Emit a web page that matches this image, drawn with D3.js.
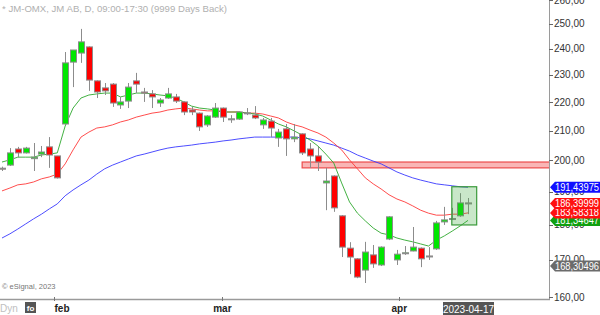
<!DOCTYPE html>
<html>
<head>
<meta charset="utf-8">
<script src="https://cdn.jsdelivr.net/npm/d3@7"></script>
<style>
  body { margin: 0; background: #fff; }
  svg { display: block; font-family: "Liberation Sans", Arial, sans-serif; }
</style>
</head>
<body>
<div id="chart"></div>
<script>
// daily candles, JM AB, 2023-01-20 .. 2023-04-17
const opens  = [197.5,198.5,203.8,202.5,200.6,202.1,204.5,201.5,212.3,234.9,238.4,240.8,227.8,225.2,226.6,219.0,220.4,227.8,223.7,223.0,
                219.7,221.5,221.9,220.1,217.2,216.1,212.0,214.7,217.9,214.0,214.0,216.1,215.4,212.0,213.3,207.5,210.6,207.2,208.9,203.8,
                201.5,192.8,195.0,182.7,173.3,170.3,167.2,171.4,168.6,175.9,170.0,171.9,172.5,173.3,171.1,173.1,180.9,181.8,182.7,186.6];
const highs  = [198.0,204.1,204.5,204.5,205.8,204.8,207.8,201.5,238.8,239.6,248.0,241.0,228.0,227.0,227.0,221.9,227.0,230.8,225.2,224.4,
                221.5,225.2,223.0,220.3,218.3,216.3,215.4,219.7,218.1,215.4,216.7,217.9,218.6,214.4,214.4,210.6,212.3,212.3,209.1,205.8,
                204.5,197.6,195.2,182.9,175.0,170.5,175.1,174.2,173.8,182.6,172.8,173.9,179.4,173.5,173.6,181.2,185.4,185.1,189.6,188.1];
const lows   = [196.6,198.2,201.1,202.3,196.6,201.1,197.6,194.2,212.0,225.5,234.6,224.1,221.5,222.6,218.3,217.6,217.9,223.3,220.1,217.9,
                218.3,221.2,219.7,215.4,215.4,209.9,211.3,214.4,213.0,212.7,213.7,215.4,214.0,210.6,207.8,204.5,201.5,206.1,201.8,197.6,
                196.6,184.4,183.9,170.8,166.1,165.0,163.7,167.8,168.3,175.6,168.6,171.4,172.4,168.0,170.0,172.8,180.0,181.5,182.4,183.2];
const closes = [197.3,202.5,202.5,204.1,201.1,202.8,201.8,194.4,234.6,239.6,242.8,228.1,223.7,224.1,219.7,220.1,225.5,226.6,223.3,221.9,
                220.8,223.0,220.4,216.5,216.5,211.3,215.1,217.9,214.7,214.1,216.5,216.2,214.4,213.7,210.9,209.5,207.2,207.8,202.5,201.5,
                199.5,193.4,185.1,173.6,170.8,165.3,172.2,168.9,173.6,182.4,171.6,172.0,173.6,170.3,171.0,180.6,181.5,181.9,186.6,186.4];

// moving averages
const maFast = [199.5,200.2,201.1,201.1,201.1,201.8,202.1,202.5,211.6,217.9,221.5,222.6,223.0,223.3,223.3,221.9,222.6,223.3,223.3,223.0,
                222.6,222.3,221.5,220.1,218.6,217.9,217.6,217.2,216.5,216.5,216.5,216.1,215.8,215.1,213.7,212.3,211.3,209.9,208.5,206.8,
                204.8,202.1,199.2,192.8,186.9,183.5,181.2,179.1,177.6,177.1,176.2,175.6,175.1,174.5,173.9,175.6,176.8,178.2,179.7,181.35];
const maMid  = [190.3,191.2,192.2,192.5,193.1,194.1,194.7,195.6,198.9,203.5,207.8,209.5,210.9,211.3,212.0,213.0,213.7,214.7,215.4,216.1,
                216.5,217.2,217.6,217.9,217.6,217.2,216.9,216.9,216.5,216.5,216.5,216.1,216.1,215.8,215.1,214.4,213.0,212.0,211.3,210.2,
                209.2,207.8,205.8,203.5,200.2,197.3,194.4,192.5,190.9,189.1,187.8,186.9,185.7,184.4,183.5,182.9,182.9,183.2,183.2,183.58];
const maSlow = [176.2,177.4,178.8,180.3,181.8,183.2,184.8,186.3,188.8,190.6,192.2,193.7,195.6,197.3,198.5,199.5,200.5,201.5,202.1,202.8,
                203.5,204.1,204.5,204.8,205.1,205.5,205.8,206.1,206.5,206.8,207.2,207.5,207.8,207.8,207.8,207.8,207.8,207.8,207.5,207.2,
                206.5,205.8,205.1,204.1,203.1,201.8,200.8,199.8,198.9,197.6,196.3,195.3,194.4,193.7,193.1,192.5,192.2,191.9,191.6,191.44];

const yTicks = [160, 170, 180, 190, 200, 210, 220, 230, 240, 250, 260];
const monthLabels = ["feb", "mar", "apr"];
const monthTickAt = [6.6, 27.9, 50.3];   // bar index of the month boundary
const monthTextAt = [7.6, 27.9, 50.3];

// resistance zone and last-bars box
const zoneTop = 199.5, zoneBottom = 197.6, zoneStart = 38;
const boxTop = 191.6, boxBottom = 180.0, boxStart = 56.95, boxEnd = 60.1;

const tagValues = [168.30496, 181.34647, 183.58318, 186.39999, 191.43975];
const tagColors = ["#6b6b6b", "#10a010", "#ff1010", "#ff1010", "#1010ff"];

const lastDate = "2023-04-17";

const width = 600, height = 315;
const plotRight = 549, plotBottom = 299;

const svg = d3.select("#chart").append("svg")
    .attr("width", width)
    .attr("height", height);

const x = d3.scaleLinear().domain([0, closes.length - 1]).range([2, 468]);
const y = d3.scaleLog().domain([160, 260]).range([297, 0]);
const comma = (fmt) => (v) => d3.format(fmt)(v).replace(".", ",");

svg.append("defs").append("clipPath").attr("id", "plotClip")
    .append("rect").attr("x", 0).attr("y", 0).attr("width", plotRight).attr("height", plotBottom);

const plot = svg.append("g").attr("clip-path", "url(#plotClip)");

// title
svg.append("text")
    .attr("x", 2).attr("y", 12)
    .style("font-size", "9.6px").style("fill", "#b0b0b0")
    .text("* JM-OMX, JM AB, D, 09:00-17:30 (9999 Days Back)");

// resistance zone
plot.append("rect")
    .attr("x", x(zoneStart)).attr("y", y(zoneTop))
    .attr("width", plotRight - x(zoneStart) + 2).attr("height", y(zoneBottom) - y(zoneTop))
    .attr("fill", "#f9b6b6").attr("stroke", "#ec4b4b").attr("stroke-width", 1.2);

// moving averages
const line = d3.line().x((d, i) => x(i)).y(d => y(d));
[[maSlow, "#3a3aff"], [maMid, "#ff3a3a"], [maFast, "#2fa82f"]].forEach(([s, c]) => {
    plot.append("path").datum(s)
        .attr("d", line)
        .attr("fill", "none")
        .attr("stroke", c)
        .attr("stroke-width", 1)
        .attr("opacity", 0.9);
});

// candles
const bars = d3.range(closes.length);
const bw = 6;
plot.selectAll(".wick").data(bars).enter().append("line")
    .attr("class", "wick")
    .attr("x1", i => Math.round(x(i)) + 0.5).attr("x2", i => Math.round(x(i)) + 0.5)
    .attr("y1", i => y(highs[i])).attr("y2", i => y(lows[i]))
    .attr("stroke", "#8c8c8c").attr("stroke-width", 1);

plot.selectAll(".body").data(bars).enter().append("rect")
    .attr("class", "body")
    .attr("x", i => Math.round(x(i)) + 0.5 - bw / 2)
    .attr("y", i => y(Math.max(opens[i], closes[i])))
    .attr("width", bw)
    .attr("height", i => Math.max(1, Math.abs(y(opens[i]) - y(closes[i]))))
    .attr("fill", i => closes[i] >= opens[i] ? "#00e600" : "#ff0000")
    .attr("stroke", "#8c8c8c").attr("stroke-width", 1);

// highlight box on the last bars
plot.append("rect")
    .attr("x", x(boxStart)).attr("y", y(boxTop))
    .attr("width", x(boxEnd) - x(boxStart)).attr("height", y(boxBottom) - y(boxTop))
    .attr("fill", "rgba(60,170,60,0.28)").attr("stroke", "#3a9a3a").attr("stroke-width", 1.2);

// right axis
svg.append("line")
    .attr("x1", plotRight + 0.5).attr("x2", plotRight + 0.5)
    .attr("y1", 0).attr("y2", plotBottom)
    .attr("stroke", "#9a9a9a");
const yAxis = svg.append("g");
yAxis.selectAll("line").data(yTicks).enter().append("line")
    .attr("x1", plotRight).attr("x2", plotRight + 4)
    .attr("y1", d => Math.round(y(d)) + 0.5).attr("y2", d => Math.round(y(d)) + 0.5)
    .attr("stroke", "#666");
yAxis.selectAll("text").data(yTicks).enter().append("text")
    .attr("x", plotRight + 5).attr("y", d => y(d))
    .attr("dy", "0.35em")
    .style("font-size", "10px").style("fill", "#333")
    .text(comma(".2f"));

// value tags
const tags = svg.append("g");
tagValues.forEach((v, i) => {
    const ty = y(v);
    tags.append("path")
        .attr("d", `M${plotRight + 1},${ty} L${plotRight + 6},${ty - 5.5} L${width},${ty - 5.5} L${width},${ty + 5.5} L${plotRight + 6},${ty + 5.5} Z`)
        .attr("fill", tagColors[i]);
    tags.append("text")
        .attr("x", plotRight + 6).attr("y", ty)
        .attr("dy", "0.36em")
        .attr("textLength", 44).attr("lengthAdjust", "spacingAndGlyphs")
        .style("font-size", "10px").style("fill", "#fff")
        .text(comma(".5f")(v));
});

// bottom axis
svg.append("line")
    .attr("x1", 0).attr("x2", plotRight + 1)
    .attr("y1", plotBottom + 0.5).attr("y2", plotBottom + 0.5)
    .attr("stroke", "#9a9a9a").attr("stroke-width", 1.5);
monthLabels.forEach((m, i) => {
    svg.append("line")
        .attr("x1", Math.round(x(monthTickAt[i])) + 0.5).attr("x2", Math.round(x(monthTickAt[i])) + 0.5)
        .attr("y1", plotBottom - 2).attr("y2", plotBottom + 2)
        .attr("stroke", "#777");
    svg.append("text")
        .attr("x", x(monthTextAt[i])).attr("y", 312)
        .attr("text-anchor", "middle")
        .style("font-size", "10px").style("font-weight", "bold").style("fill", "#222")
        .text(m);
});

// last date box
const lastX = x(closes.length - 1) - 25;
svg.append("rect")
    .attr("x", lastX).attr("y", 302).attr("width", 51).attr("height", 14)
    .attr("fill", "#555");
svg.append("text")
    .attr("x", lastX + 25.5).attr("y", 312.5)
    .attr("text-anchor", "middle")
    .style("font-size", "10px").style("fill", "#fff")
    .text(lastDate);

// footer bits
svg.append("text")
    .attr("x", 2).attr("y", 289)
    .style("font-size", "7.5px").style("fill", "#777")
    .text("\u00a9 eSignal, 2023");
svg.append("text")
    .attr("x", 0).attr("y", 312)
    .style("font-size", "10px").style("fill", "#c0c0c0")
    .text("Dyn");
svg.append("rect")
    .attr("x", 25).attr("y", 302).attr("width", 11).attr("height", 11)
    .attr("fill", "#555");
svg.append("text")
    .attr("x", 30.5).attr("y", 311)
    .attr("text-anchor", "middle")
    .style("font-size", "8px").style("font-weight", "bold").style("fill", "#fff")
    .text("fo");
</script>
</body>
</html>
